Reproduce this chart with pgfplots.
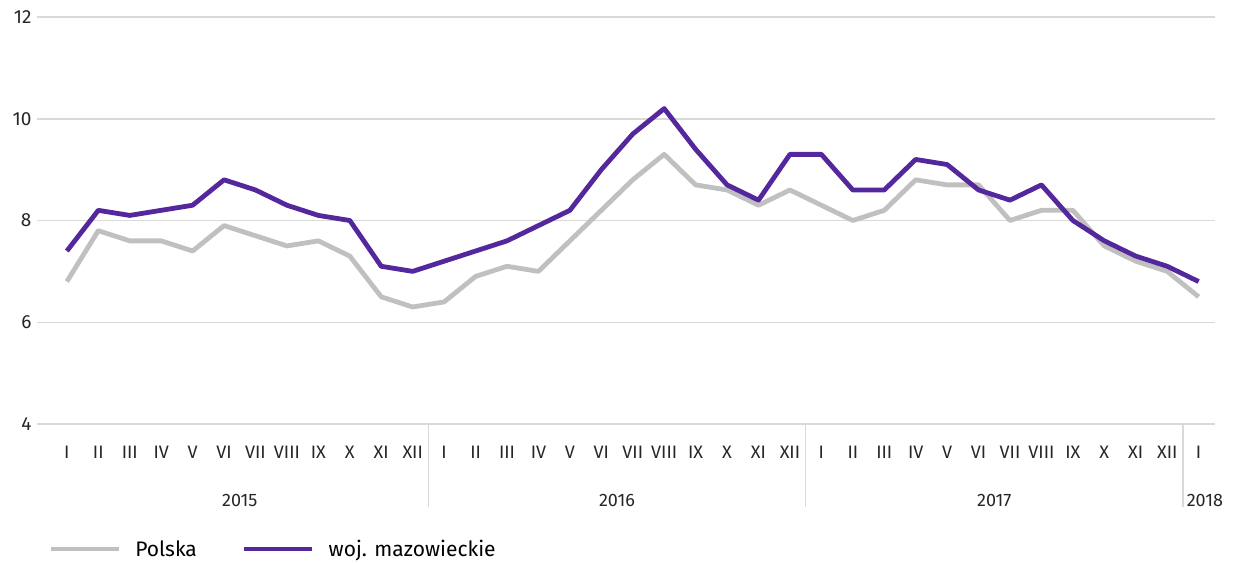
\documentclass[border=0pt]{standalone}
\usepackage{pgfplots}
\pgfplotsset{compat=1.18}
\usepackage{fontspec}
\setmainfont{Fira Sans}
\definecolor{pol}{RGB}{192,192,192}
\definecolor{maz}{RGB}{84,40,156}
\definecolor{grd}{RGB}{217,217,217}
\begin{document}
\begin{tikzpicture}
\begin{axis}[
  scale only axis, width=1178pt, height=407pt,
  xmin=-0.95, xmax=36.52, ymin=4, ymax=12,
  axis x line*=bottom, axis y line*=left,
  x axis line style={draw=none}, y axis line style={draw=none},
  clip=false,
  ytick={4,6,8,10,12},
  xtick={0,...,36},
  xticklabels={I,II,III,IV,V,VI,VII,VIII,IX,X,XI,XII,I,II,III,IV,V,VI,VII,VIII,IX,X,XI,XII,I,II,III,IV,V,VI,VII,VIII,IX,X,XI,XII,I},
  xticklabel style={font=\fontsize{18}{20}\selectfont, text=black!85, anchor=base, yshift=-34pt},
  ymajorgrids, grid style={grd, line width=1.5pt},
  major tick length=0pt,
  /pgf/number format/assume math mode=true,
  yticklabel style={font=\fontsize{19}{20}\selectfont, text=black!85, xshift=-2pt},
  legend style={draw=none, at={(0.007,-0.307)}, anchor=west, legend columns=2,
    font=\fontsize{21}{24}\selectfont,
    /tikz/every even column/.append style={column sep=31pt},
    nodes={inner xsep=14pt}},
  legend image code/.code={\draw[#1] (0pt,0pt) -- (68pt,0pt);},
]
\addplot[pol, line width=4.8pt, line join=round] coordinates {
(0,6.8)(1,7.8)(2,7.6)(3,7.6)(4,7.4)(5,7.9)(6,7.7)(7,7.5)(8,7.6)(9,7.3)(10,6.5)(11,6.3)
(12,6.4)(13,6.9)(14,7.1)(15,7.0)(16,7.6)(17,8.2)(18,8.8)(19,9.3)(20,8.7)(21,8.6)(22,8.3)(23,8.6)
(24,8.3)(25,8.0)(26,8.2)(27,8.8)(28,8.7)(29,8.7)(30,8.0)(31,8.2)(32,8.2)(33,7.5)(34,7.2)(35,7.0)
(36,6.5)};
\addlegendentry{Polska}
\addplot[maz, line width=4.8pt, line join=round] coordinates {
(0,7.4)(1,8.2)(2,8.1)(3,8.2)(4,8.3)(5,8.8)(6,8.6)(7,8.3)(8,8.1)(9,8.0)(10,7.1)(11,7.0)
(12,7.2)(13,7.4)(14,7.6)(15,7.9)(16,8.2)(17,9.0)(18,9.7)(19,10.2)(20,9.4)(21,8.7)(22,8.4)(23,9.3)
(24,9.3)(25,8.6)(26,8.6)(27,9.2)(28,9.1)(29,8.6)(30,8.4)(31,8.7)(32,8.0)(33,7.6)(34,7.3)(35,7.1)
(36,6.8)};
\addlegendentry{woj. mazowieckie}
\pgfplotsinvokeforeach{11.5,23.5,35.5}{
  \draw[grd, line width=1.5pt] (axis cs:#1,4) -- ++(0pt,-83pt);
}
\node[font=\fontsize{18}{20}\selectfont, text=black!85, anchor=base] at (axis cs:5.5,4) [yshift=-82pt] {2015};
\node[font=\fontsize{18}{20}\selectfont, text=black!85, anchor=base] at (axis cs:17.5,4) [yshift=-82pt] {2016};
\node[font=\fontsize{18}{20}\selectfont, text=black!85, anchor=base] at (axis cs:29.5,4) [yshift=-82pt] {2017};
\node[font=\fontsize{18}{20}\selectfont, text=black!85, anchor=base] at (axis cs:36.2,4) [yshift=-82pt] {2018};
\end{axis}
\path (-37pt,-138pt) rectangle (1196pt,424pt);
\end{tikzpicture}
\end{document}
